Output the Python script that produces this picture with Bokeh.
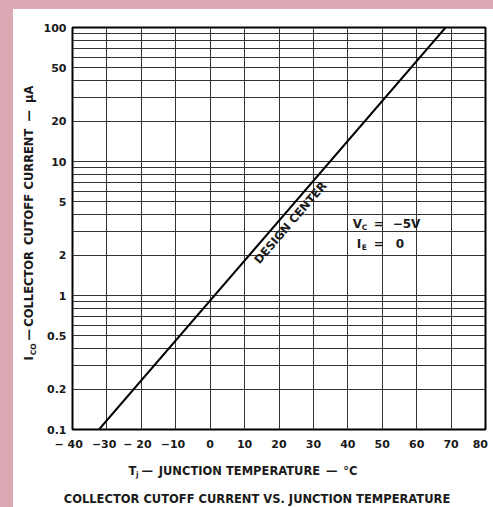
from bokeh.plotting import figure
from bokeh.models import Range1d, FixedTicker, Label
from bokeh.core.properties import value
from bokeh.layouts import column, row
from bokeh.embed import file_html
from bokeh.resources import INLINE

# Collector cutoff current vs. junction temperature (design-center line)
temp_c = [-32.3, 68.4]
i_co_ua = [0.1, 100.0]

x_ticks = [-40, -30, -20, -10, 0, 10, 20, 30, 40, 50, 60, 70, 80]
# negative labels are padded on the right so the digits sit centred on their tick;
# the last label is padded so it stays inside the page
x_tick_labels = ["\u2212 40\u2002\u2009", "\u221230\u2002", "\u2212 20\u2002\u2009", "\u221210\u2002",
                 "0", "10", "20", "30", "40", "50", "60", "70", "80\u2002"]
y_ticks = [0.1, 0.2, 0.5, 1, 2, 5, 10, 20, 50, 100]
y_tick_labels = ["0.1", "0.2", "0.5", "1", "2", "5", "10", "20", "50", "100"]
y_grid = [m * 10.0 ** e for e in (-1, 0, 1) for m in range(1, 10)] + [100.0]

FONT = "DejaVu Sans"
INK = "#1a1a1a"

p = figure(width=453, height=446, output_backend="svg", toolbar_location=None,
           x_range=Range1d(-40, 80), y_range=Range1d(0.1, 100), y_axis_type="log",
           min_border_left=32, min_border_right=8, min_border_top=18, min_border_bottom=26,
           background_fill_color="white", border_fill_color="white")

p.outline_line_color = "black"
p.outline_line_width = 2
p.outline_line_alpha = 1

p.xaxis.ticker = FixedTicker(ticks=x_ticks)
p.xaxis.major_label_overrides = dict(zip(x_ticks, x_tick_labels))
p.yaxis.ticker = FixedTicker(ticks=y_ticks)
p.yaxis.major_label_overrides = dict(zip(y_ticks, y_tick_labels))

for ax in (p.xaxis, p.yaxis):
    ax.axis_line_color = None
    ax.major_tick_line_color = None
    ax.minor_tick_line_color = None
    ax.major_tick_out = 0
    ax.major_tick_in = 0
    ax.major_label_text_font = FONT
    ax.major_label_text_font_style = "bold"
    ax.major_label_text_font_size = "11px"
    ax.major_label_text_color = INK
p.xaxis.major_label_standoff = 8
p.yaxis.major_label_standoff = 6

p.xgrid.ticker = FixedTicker(ticks=x_ticks)
p.ygrid.ticker = FixedTicker(ticks=y_grid)
for g in (p.xgrid, p.ygrid):
    g.grid_line_color = "#333333"
    g.grid_line_width = 1
    g.grid_line_alpha = 1

p.line(temp_c, i_co_ua, line_color="black", line_width=2)


def label(t, x, y, dx=0, dy=0, size=11, angle=0, align="left"):
    p.add_layout(Label(x=x, y=y, x_offset=dx, y_offset=dy, text=t,
                       text_font=FONT, text_font_style="bold",
                       text_font_size=f"{size}px", text_color=INK, angle=angle,
                       angle_units="deg", text_align=align, text_baseline="middle"))


# label on the line
label("DESIGN CENTER", 23.3, 3.5, size=11.5, angle=49.2, align="center")

# test conditions
label("V", 41.4, 3.44, size=12)
label("C", 41.4, 3.44, dx=9, dy=-4, size=7.5)
label("=", 41.4, 3.44, dx=21, size=12)
label("\u22125V", 41.4, 3.44, dx=40, size=12)
label("I", 41.4, 3.44, dx=4, dy=-20, size=12)
label("E", 41.4, 3.44, dx=9, dy=-24, size=7.5)
label("=", 41.4, 3.44, dx=21, dy=-20, size=12)
label("0", 41.4, 3.44, dx=43, dy=-20, size=12)


def text_panel(w, h):
    f = figure(width=w, height=h, output_backend="svg", toolbar_location=None,
               x_range=Range1d(0, w), y_range=Range1d(0, h),
               x_axis_location=None, y_axis_location=None, min_border=0,
               background_fill_color="white", border_fill_color="white")
    f.outline_line_color = None
    f.grid.visible = False
    return f


def put(f, t, x, y_from_top, size=11.5, angle=0, align="left"):
    f.text(x=[x], y=[f.height - y_from_top], text=[t], text_font=value(FONT),
           text_font_style="bold", text_font_size=f"{size}px", text_color=INK,
           angle=angle, angle_units="deg", text_align=align, text_baseline="middle")


# vertical axis title, read bottom to top (each piece centred on its spot)
left = text_panel(27, 446)
put(left, "I", 15, 367, angle=90, align="center")
put(left, "CO", 19.5, 357, size=7.5, angle=90, align="center")
put(left, "\u2014", 15, 341, angle=90, align="center")
put(left, "COLLECTOR", 15, 290, angle=90, align="center")
put(left, "CUTOFF", 15, 213, angle=90, align="center")
put(left, "CURRENT", 15, 146, angle=90, align="center")
put(left, "\u2014", 15, 98, angle=90, align="center")
put(left, "\u03bcA", 15, 74, angle=90, align="center")

# horizontal axis title and caption
bottom = text_panel(480, 52)
put(bottom, "T", 115, 15)
put(bottom, "j", 122.5, 19, size=7.5)
put(bottom, "\u2014\u2002JUNCTION TEMPERATURE\u2002\u2014\u2002\u00b0C", 128, 15)
put(bottom, "COLLECTOR CUTOFF CURRENT VS. JUNCTION TEMPERATURE", 243.5, 43, align="center")

sheet = column(row(left, p), bottom, margin=(9, 0, 0, 13),
               styles={"background-color": "white"})
page = column(sheet, width=493, height=507, styles={"background-color": "#dba9b4"})

open("out.html", "w").write(file_html(page, INLINE))
